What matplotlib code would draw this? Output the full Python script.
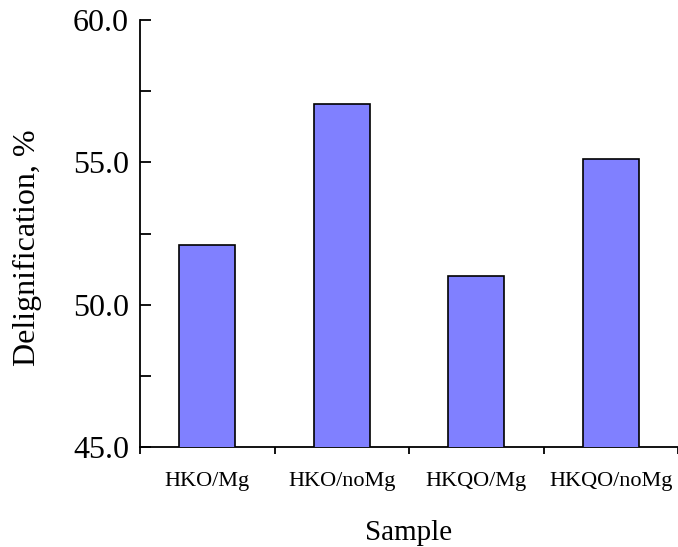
import matplotlib
matplotlib.use('Agg')
import matplotlib.pyplot as plt
from matplotlib.ticker import FixedLocator, MultipleLocator
import numpy as np

plt.rcParams['font.family'] = 'Liberation Serif'

samples = ['HKO/Mg', 'HKO/noMg', 'HKQO/Mg', 'HKQO/noMg']
delig = [52.1, 57.05, 51.0, 55.1]

fig = plt.figure(figsize=(6.78, 5.47), dpi=100)
ax = fig.add_axes([140 / 678, 1 - 447 / 547, 538 / 678, 427 / 547])

x = np.arange(len(samples))
ax.bar(x, delig, width=0.42, color='#8080ff', edgecolor='black', linewidth=1.2, zorder=3)

ax.set_xlim(-0.5, len(samples) - 0.5)
ax.set_ylim(45, 60)

ax.spines['top'].set_visible(False)
ax.spines['right'].set_visible(False)
for s in ['left', 'bottom']:
    ax.spines[s].set_linewidth(1.3)

# y ticks inward, with minor ticks at half steps
ax.yaxis.set_major_locator(MultipleLocator(5))
ax.yaxis.set_minor_locator(MultipleLocator(2.5))
ax.set_yticklabels(['%.1f' % v for v in ax.get_yticks()])
ax.tick_params(axis='y', which='both', direction='in', length=8, width=1.3,
               labelsize=23, pad=8)

# x labels at bar centers, tick marks between categories
ax.set_xticks(x)
ax.set_xticklabels(samples)
ax.xaxis.set_minor_locator(FixedLocator(np.arange(-0.5, len(samples), 1.0)))
ax.tick_params(axis='x', which='major', length=0, labelsize=16, pad=18)
ax.tick_params(axis='x', which='minor', direction='out', length=5, width=1.3)

ax.set_ylabel('Delignification, %', fontsize=23)
ax.yaxis.set_label_coords(-0.182, 0.466)
ax.set_xlabel('Sample', fontsize=21, labelpad=21)

plt.savefig('out.png', dpi=100)
